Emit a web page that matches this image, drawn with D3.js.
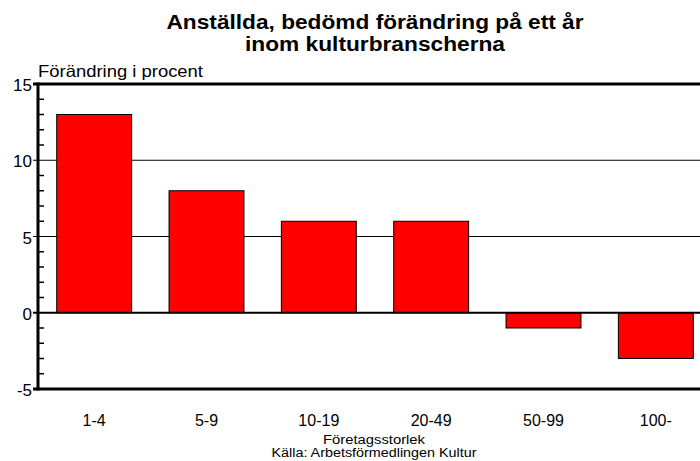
<!DOCTYPE html>
<html>
<head>
<meta charset="utf-8">
<script src="https://cdn.jsdelivr.net/npm/d3@7"></script>
<style>
  body { margin: 0; background: #fff; }
  svg { font-family: Arial, "Liberation Sans", sans-serif; }
</style>
</head>
<body>
<svg id="chart" width="700" height="461"></svg>
<script>
const categories = ["1-4", "5-9", "10-19", "20-49", "50-99", "100-"]
const values = [13, 8, 6, 6, -1, -3]
const yTicks = [-5, 0, 5, 10, 15]
const titleLines = ["Anställda, bedömd förändring på ett år", "inom kulturbranscherna"]

const svg = d3.select("#chart")
const margin = { left: 38, top: 84, right: -12, bottom: 72 }
const width = 700 - margin.left - margin.right
const height = 461 - margin.top - margin.bottom

const x = d3.scaleBand()
  .domain(categories)
  .range([margin.left, margin.left + width])
  .paddingInner(0.333)
  .paddingOuter(0.1665)

const y = d3.scaleLinear()
  .domain([-5, 15])
  .range([margin.top + height, margin.top])

const g = svg.append("g")

// gridlines at 5 and 10
g.append("g")
  .selectAll("line")
  .data([5, 10])
  .enter().append("line")
  .attr("x1", margin.left - 5)
  .attr("x2", 700)
  .attr("y1", d => y(d))
  .attr("y2", d => y(d))
  .attr("stroke", "#000")
  .attr("stroke-width", 1)

// bars
g.append("g")
  .selectAll("rect")
  .data(values)
  .enter().append("rect")
  .attr("x", (d, i) => x(categories[i]))
  .attr("width", x.bandwidth())
  .attr("y", d => y(Math.max(0, d)))
  .attr("height", d => Math.abs(y(d) - y(0)))
  .attr("fill", "#ff0000")
  .attr("stroke", "#000")
  .attr("stroke-width", 1)

// zero line
g.append("line")
  .attr("x1", margin.left - 5)
  .attr("x2", 700)
  .attr("y1", y(0))
  .attr("y2", y(0))
  .attr("stroke", "#000")
  .attr("stroke-width", 2)

// top and bottom frame
g.append("g")
  .selectAll("line")
  .data([15, -5])
  .enter().append("line")
  .attr("x1", margin.left - 5)
  .attr("x2", 700)
  .attr("y1", d => y(d))
  .attr("y2", d => y(d))
  .attr("stroke", "#000")
  .attr("stroke-width", 3)

// minor ticks, inside the axis
const minor = d3.range(-5, 16).filter(v => v % 5 !== 0)
g.append("g")
  .selectAll("line")
  .data(minor)
  .enter().append("line")
  .attr("x1", margin.left)
  .attr("x2", margin.left + 6)
  .attr("y1", d => y(d))
  .attr("y2", d => y(d))
  .attr("stroke", "#000")
  .attr("stroke-width", 1.5)

// y axis line
g.append("line")
  .attr("x1", margin.left)
  .attr("x2", margin.left)
  .attr("y1", y(15) - 1.5)
  .attr("y2", y(-5) + 1.5)
  .attr("stroke", "#000")
  .attr("stroke-width", 3)

// y tick labels
g.append("g")
  .selectAll("text")
  .data(yTicks)
  .enter().append("text")
  .attr("x", margin.left - 6)
  .attr("y", d => y(d) + 7)
  .attr("text-anchor", "end")
  .attr("font-size", 17)
  .text(d => d)

// category labels
g.append("g")
  .selectAll("text")
  .data(categories)
  .enter().append("text")
  .attr("x", d => x(d) + x.bandwidth() / 2)
  .attr("y", 426)
  .attr("text-anchor", "middle")
  .attr("font-size", 16)
  .text(d => d)

// titles (the original is a little stretched sideways)
const titleWidths = [417, 260]
svg.append("g")
  .selectAll("text")
  .data(titleLines)
  .enter().append("text")
  .attr("x", 375)
  .attr("y", (d, i) => 29 + i * 22)
  .attr("text-anchor", "middle")
  .attr("font-size", 20)
  .attr("font-weight", "bold")
  .attr("textLength", (d, i) => titleWidths[i])
  .attr("lengthAdjust", "spacingAndGlyphs")
  .text(d => d)

svg.append("text")
  .attr("x", margin.left)
  .attr("y", 77)
  .attr("font-size", 16.5)
  .attr("textLength", 165)
  .attr("lengthAdjust", "spacingAndGlyphs")
  .text("Förändring i procent")

svg.append("text")
  .attr("x", 374)
  .attr("y", 443.5)
  .attr("text-anchor", "middle")
  .attr("font-size", 12)
  .attr("textLength", 102)
  .attr("lengthAdjust", "spacingAndGlyphs")
  .text("Företagsstorlek")

svg.append("text")
  .attr("x", 374)
  .attr("y", 457)
  .attr("text-anchor", "middle")
  .attr("font-size", 12)
  .attr("textLength", 205)
  .attr("lengthAdjust", "spacingAndGlyphs")
  .text("Källa: Arbetsförmedlingen Kultur")
</script>
</body>
</html>
